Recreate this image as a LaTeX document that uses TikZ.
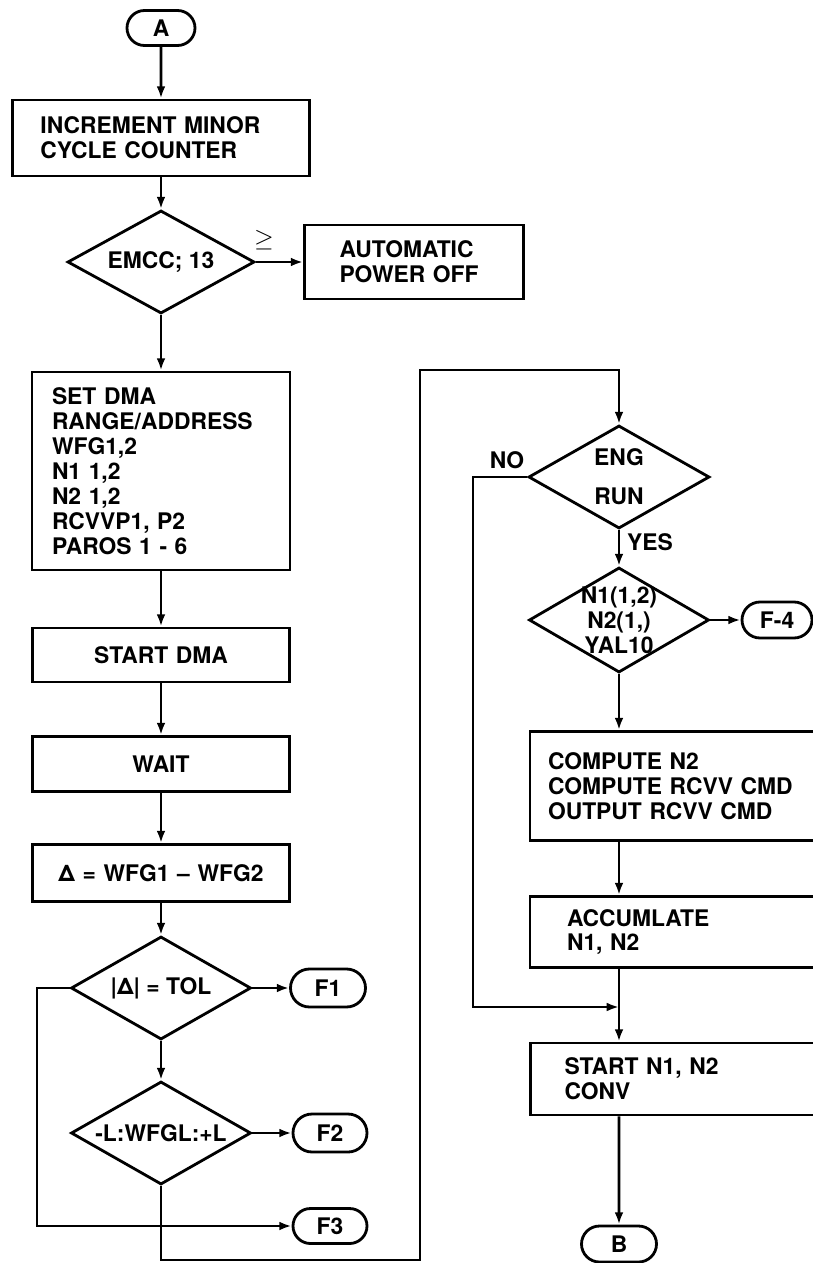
\documentclass[tikz,border=0pt]{standalone}
\usepackage{fontspec}
\setmainfont{TeX Gyre Heros}
\usetikzlibrary{shapes.geometric,shapes.misc,arrows.meta}
\newdimen\pxu \pxu=0.02cm

\begin{document}
\begin{tikzpicture}[x=1\pxu,y=-1\pxu,line width=1.6pt,font=\fontsize{13}{14.2}\selectfont\bfseries,>={Latex[length=7pt,width=5pt]},
blk/.style n args={4}{rectangle,draw,text width=#1\pxu,inner xsep=#2\pxu,minimum height=#3\pxu,align=#4},
dec/.style n args={2}{diamond,draw,aspect=1.75,inner sep=0pt,minimum width=#1\pxu,minimum height=#2\pxu,align=center},
trm/.style n args={2}{rounded rectangle,draw,inner sep=0pt,minimum width=#1\pxu,minimum height=#2\pxu}]
\useasboundingbox (0,0) rectangle (813,1263);
\clip (0,0) rectangle (813,1263);
% left column
\node[trm={68}{35}] (A) at (161,28) {A};
\node[blk={241}{28}{76}{left}] (inc) at (161,138) {INCREMENT MINOR\\CYCLE COUNTER};
\node[dec={187}{103}] (emcc) at (161,262) {EMCC; 13};
\node[blk={149}{35}{74}{left}] (auto) at (414,262) {AUTOMATIC\\POWER OFF};
\node[font=\Large] (ge) at (264,240) {$\geq$};
\node[blk={218}{20}{198}{left}] (setdma) at (161,471) {SET DMA\\RANGE/ADDRESS\\WFG1,2\\N1 1,2\\N2 1,2\\RCVVP1, P2\\PAROS 1 - 6};
\node[blk={217}{20}{54}{center}] (startdma) at (161,655) {START DMA};
\node[blk={217}{20}{55}{center}] (wait) at (161,764) {WAIT};
\node[blk={217}{20}{57}{center}] (delta) at (161,873) {Δ = WFG1 -- WFG2};
\node[dec={180}{103}] (tol) at (161,988) {|Δ| = TOL};
\node[trm={75}{38}] (F1) at (328,988) {F1};
\node[dec={180}{103}] (wfgl) at (161,1133) {-L:WFGL:+L};
\node[trm={74}{38}] (F2) at (330,1133) {F2};
\node[trm={74}{35}] (F3) at (330,1226) {F3};
\coordinate (tolL) at (37,988);
\coordinate (loopB) at (420,1260);
\coordinate (loopT) at (420,370);
% right column
\node[dec={181}{103}] (eng) at (619,477) {ENG\\[8pt]RUN};
\node (no) at (507,460) {NO};
\node (yes) at (650,542) {YES};
\node[dec={180}{105},inner sep=-5pt] (n1) at (619,620) {N1(1,2)\\N2(1,)\\YAL10};
\node[trm={70}{36}] (F4) at (777,620) {F-4};
\node[blk={264}{18}{109}{left}] (comp) at (680,786) {COMPUTE N2\\COMPUTE RCVV CMD\\OUTPUT RCVV CMD};
\node[blk={226}{37}{71}{left}] (acc) at (680,932) {ACCUMLATE\\N1, N2};
\node[blk={231}{34}{72}{left}] (startn) at (680,1079) {START N1, N2\\CONV};
\node[trm={75}{36}] (B) at (619,1244) {B};
\coordinate (noL) at (473,477);
\coordinate (join) at (619,1007);

\draw[->] (A) -- (inc);
\draw[->] (inc) -- (emcc);
\draw[->] (emcc) -- (auto);
\draw[->] (emcc) -- (setdma);
\draw[->] (setdma) -- (startdma);
\draw[->] (startdma) -- (wait);
\draw[->] (wait) -- (delta);
\draw[->] (delta) -- (tol);
\draw[->] (tol) -- (F1);
\draw[->] (tol) -- (wfgl);
\draw[->] (wfgl) -- (F2);
\draw[->] (tol.west) -- (tolL) |- (F3);
\draw[->] (wfgl.south) |- (loopB) -- (loopT) -| (eng.north);
\draw[->] (eng) -- (n1);
\draw[->] (n1) -- (F4);
\draw[->] (n1.south) -- (n1.south |- comp.north);
\draw[->] (n1.south |- comp.south) -- (n1.south |- acc.north);
\draw[->] (n1.south |- acc.south) -- (n1.south |- startn.north);
\draw[->] (eng.west) -- (noL) |- (join);
\draw[->] (n1.south |- startn.south) -- (B);
\end{tikzpicture}
\end{document}
